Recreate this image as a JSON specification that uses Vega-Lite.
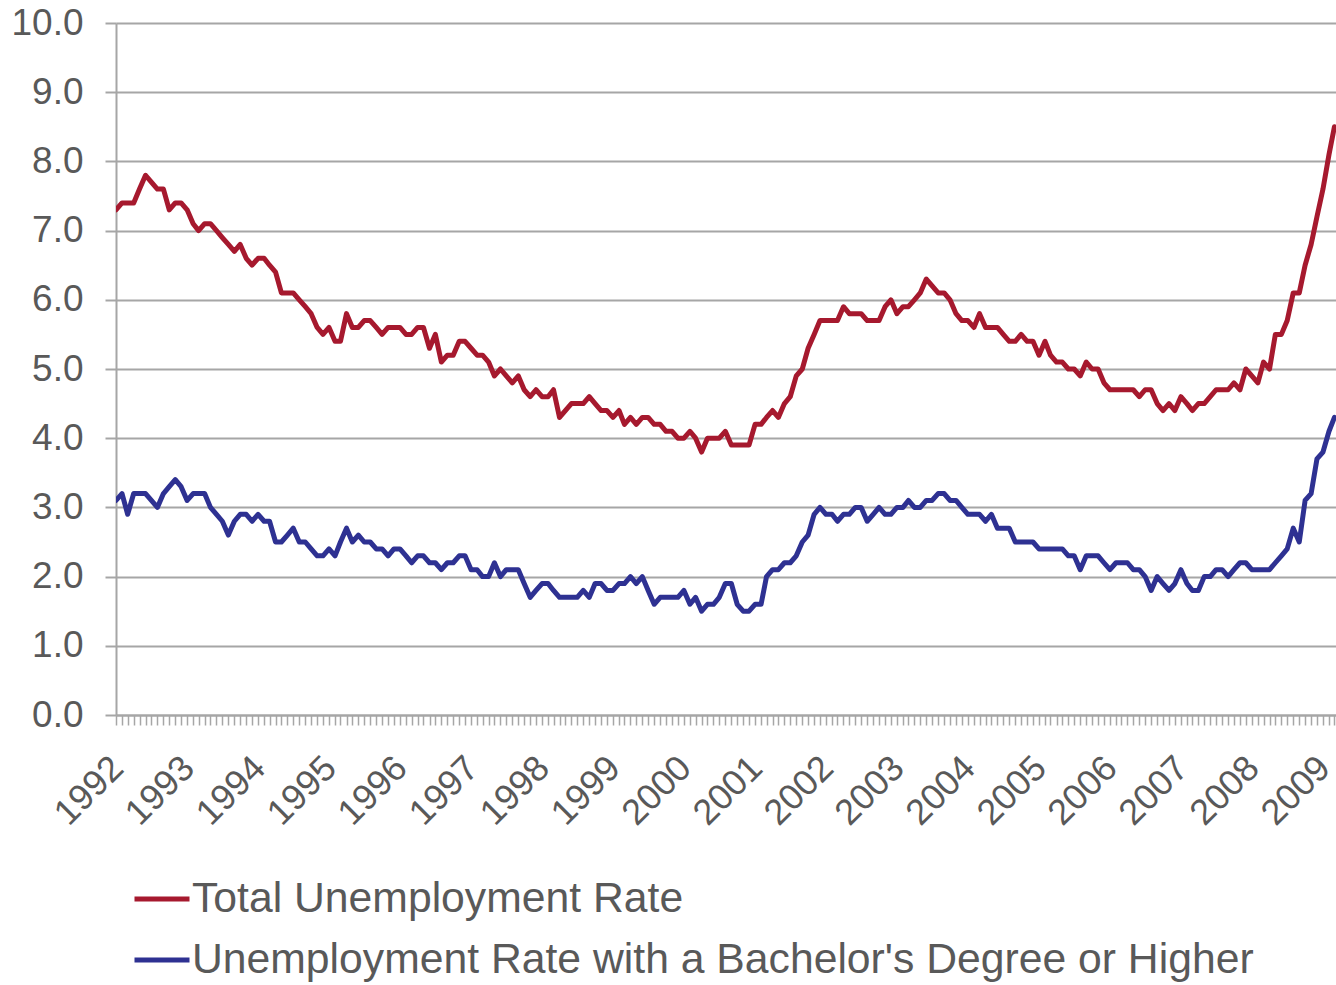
{
  "$schema": "https://vega.github.io/schema/vega-lite/v6.json",
  "width": 1220,
  "height": 692,
  "autosize": {"type": "none"},
  "padding": {"left": 116, "top": 23, "right": 0, "bottom": 270},
  "background": "white",
  "config": {
    "view": {"stroke": null},
    "font": "Liberation Sans",
    "axis": {"labelFont": "Liberation Sans", "labelColor": "#595959"},
    "legend": {"labelFont": "Liberation Sans"}
  },
  "data": {
    "values": [
      {"d":"1992-01-01","t":7.3,"b":3.1},{"d":"1992-02-01","t":7.4,"b":3.2},{"d":"1992-03-01","t":7.4,"b":2.9},{"d":"1992-04-01","t":7.4,"b":3.2},{"d":"1992-05-01","t":7.6,"b":3.2},{"d":"1992-06-01","t":7.8,"b":3.2},{"d":"1992-07-01","t":7.7,"b":3.1},{"d":"1992-08-01","t":7.6,"b":3.0},{"d":"1992-09-01","t":7.6,"b":3.2},{"d":"1992-10-01","t":7.3,"b":3.3},{"d":"1992-11-01","t":7.4,"b":3.4},{"d":"1992-12-01","t":7.4,"b":3.3},
      {"d":"1993-01-01","t":7.3,"b":3.1},{"d":"1993-02-01","t":7.1,"b":3.2},{"d":"1993-03-01","t":7.0,"b":3.2},{"d":"1993-04-01","t":7.1,"b":3.2},{"d":"1993-05-01","t":7.1,"b":3.0},{"d":"1993-06-01","t":7.0,"b":2.9},{"d":"1993-07-01","t":6.9,"b":2.8},{"d":"1993-08-01","t":6.8,"b":2.6},{"d":"1993-09-01","t":6.7,"b":2.8},{"d":"1993-10-01","t":6.8,"b":2.9},{"d":"1993-11-01","t":6.6,"b":2.9},{"d":"1993-12-01","t":6.5,"b":2.8},
      {"d":"1994-01-01","t":6.6,"b":2.9},{"d":"1994-02-01","t":6.6,"b":2.8},{"d":"1994-03-01","t":6.5,"b":2.8},{"d":"1994-04-01","t":6.4,"b":2.5},{"d":"1994-05-01","t":6.1,"b":2.5},{"d":"1994-06-01","t":6.1,"b":2.6},{"d":"1994-07-01","t":6.1,"b":2.7},{"d":"1994-08-01","t":6.0,"b":2.5},{"d":"1994-09-01","t":5.9,"b":2.5},{"d":"1994-10-01","t":5.8,"b":2.4},{"d":"1994-11-01","t":5.6,"b":2.3},{"d":"1994-12-01","t":5.5,"b":2.3},
      {"d":"1995-01-01","t":5.6,"b":2.4},{"d":"1995-02-01","t":5.4,"b":2.3},{"d":"1995-03-01","t":5.4,"b":2.5},{"d":"1995-04-01","t":5.8,"b":2.7},{"d":"1995-05-01","t":5.6,"b":2.5},{"d":"1995-06-01","t":5.6,"b":2.6},{"d":"1995-07-01","t":5.7,"b":2.5},{"d":"1995-08-01","t":5.7,"b":2.5},{"d":"1995-09-01","t":5.6,"b":2.4},{"d":"1995-10-01","t":5.5,"b":2.4},{"d":"1995-11-01","t":5.6,"b":2.3},{"d":"1995-12-01","t":5.6,"b":2.4},
      {"d":"1996-01-01","t":5.6,"b":2.4},{"d":"1996-02-01","t":5.5,"b":2.3},{"d":"1996-03-01","t":5.5,"b":2.2},{"d":"1996-04-01","t":5.6,"b":2.3},{"d":"1996-05-01","t":5.6,"b":2.3},{"d":"1996-06-01","t":5.3,"b":2.2},{"d":"1996-07-01","t":5.5,"b":2.2},{"d":"1996-08-01","t":5.1,"b":2.1},{"d":"1996-09-01","t":5.2,"b":2.2},{"d":"1996-10-01","t":5.2,"b":2.2},{"d":"1996-11-01","t":5.4,"b":2.3},{"d":"1996-12-01","t":5.4,"b":2.3},
      {"d":"1997-01-01","t":5.3,"b":2.1},{"d":"1997-02-01","t":5.2,"b":2.1},{"d":"1997-03-01","t":5.2,"b":2.0},{"d":"1997-04-01","t":5.1,"b":2.0},{"d":"1997-05-01","t":4.9,"b":2.2},{"d":"1997-06-01","t":5.0,"b":2.0},{"d":"1997-07-01","t":4.9,"b":2.1},{"d":"1997-08-01","t":4.8,"b":2.1},{"d":"1997-09-01","t":4.9,"b":2.1},{"d":"1997-10-01","t":4.7,"b":1.9},{"d":"1997-11-01","t":4.6,"b":1.7},{"d":"1997-12-01","t":4.7,"b":1.8},
      {"d":"1998-01-01","t":4.6,"b":1.9},{"d":"1998-02-01","t":4.6,"b":1.9},{"d":"1998-03-01","t":4.7,"b":1.8},{"d":"1998-04-01","t":4.3,"b":1.7},{"d":"1998-05-01","t":4.4,"b":1.7},{"d":"1998-06-01","t":4.5,"b":1.7},{"d":"1998-07-01","t":4.5,"b":1.7},{"d":"1998-08-01","t":4.5,"b":1.8},{"d":"1998-09-01","t":4.6,"b":1.7},{"d":"1998-10-01","t":4.5,"b":1.9},{"d":"1998-11-01","t":4.4,"b":1.9},{"d":"1998-12-01","t":4.4,"b":1.8},
      {"d":"1999-01-01","t":4.3,"b":1.8},{"d":"1999-02-01","t":4.4,"b":1.9},{"d":"1999-03-01","t":4.2,"b":1.9},{"d":"1999-04-01","t":4.3,"b":2.0},{"d":"1999-05-01","t":4.2,"b":1.9},{"d":"1999-06-01","t":4.3,"b":2.0},{"d":"1999-07-01","t":4.3,"b":1.8},{"d":"1999-08-01","t":4.2,"b":1.6},{"d":"1999-09-01","t":4.2,"b":1.7},{"d":"1999-10-01","t":4.1,"b":1.7},{"d":"1999-11-01","t":4.1,"b":1.7},{"d":"1999-12-01","t":4.0,"b":1.7},
      {"d":"2000-01-01","t":4.0,"b":1.8},{"d":"2000-02-01","t":4.1,"b":1.6},{"d":"2000-03-01","t":4.0,"b":1.7},{"d":"2000-04-01","t":3.8,"b":1.5},{"d":"2000-05-01","t":4.0,"b":1.6},{"d":"2000-06-01","t":4.0,"b":1.6},{"d":"2000-07-01","t":4.0,"b":1.7},{"d":"2000-08-01","t":4.1,"b":1.9},{"d":"2000-09-01","t":3.9,"b":1.9},{"d":"2000-10-01","t":3.9,"b":1.6},{"d":"2000-11-01","t":3.9,"b":1.5},{"d":"2000-12-01","t":3.9,"b":1.5},
      {"d":"2001-01-01","t":4.2,"b":1.6},{"d":"2001-02-01","t":4.2,"b":1.6},{"d":"2001-03-01","t":4.3,"b":2.0},{"d":"2001-04-01","t":4.4,"b":2.1},{"d":"2001-05-01","t":4.3,"b":2.1},{"d":"2001-06-01","t":4.5,"b":2.2},{"d":"2001-07-01","t":4.6,"b":2.2},{"d":"2001-08-01","t":4.9,"b":2.3},{"d":"2001-09-01","t":5.0,"b":2.5},{"d":"2001-10-01","t":5.3,"b":2.6},{"d":"2001-11-01","t":5.5,"b":2.9},{"d":"2001-12-01","t":5.7,"b":3.0},
      {"d":"2002-01-01","t":5.7,"b":2.9},{"d":"2002-02-01","t":5.7,"b":2.9},{"d":"2002-03-01","t":5.7,"b":2.8},{"d":"2002-04-01","t":5.9,"b":2.9},{"d":"2002-05-01","t":5.8,"b":2.9},{"d":"2002-06-01","t":5.8,"b":3.0},{"d":"2002-07-01","t":5.8,"b":3.0},{"d":"2002-08-01","t":5.7,"b":2.8},{"d":"2002-09-01","t":5.7,"b":2.9},{"d":"2002-10-01","t":5.7,"b":3.0},{"d":"2002-11-01","t":5.9,"b":2.9},{"d":"2002-12-01","t":6.0,"b":2.9},
      {"d":"2003-01-01","t":5.8,"b":3.0},{"d":"2003-02-01","t":5.9,"b":3.0},{"d":"2003-03-01","t":5.9,"b":3.1},{"d":"2003-04-01","t":6.0,"b":3.0},{"d":"2003-05-01","t":6.1,"b":3.0},{"d":"2003-06-01","t":6.3,"b":3.1},{"d":"2003-07-01","t":6.2,"b":3.1},{"d":"2003-08-01","t":6.1,"b":3.2},{"d":"2003-09-01","t":6.1,"b":3.2},{"d":"2003-10-01","t":6.0,"b":3.1},{"d":"2003-11-01","t":5.8,"b":3.1},{"d":"2003-12-01","t":5.7,"b":3.0},
      {"d":"2004-01-01","t":5.7,"b":2.9},{"d":"2004-02-01","t":5.6,"b":2.9},{"d":"2004-03-01","t":5.8,"b":2.9},{"d":"2004-04-01","t":5.6,"b":2.8},{"d":"2004-05-01","t":5.6,"b":2.9},{"d":"2004-06-01","t":5.6,"b":2.7},{"d":"2004-07-01","t":5.5,"b":2.7},{"d":"2004-08-01","t":5.4,"b":2.7},{"d":"2004-09-01","t":5.4,"b":2.5},{"d":"2004-10-01","t":5.5,"b":2.5},{"d":"2004-11-01","t":5.4,"b":2.5},{"d":"2004-12-01","t":5.4,"b":2.5},
      {"d":"2005-01-01","t":5.2,"b":2.4},{"d":"2005-02-01","t":5.4,"b":2.4},{"d":"2005-03-01","t":5.2,"b":2.4},{"d":"2005-04-01","t":5.1,"b":2.4},{"d":"2005-05-01","t":5.1,"b":2.4},{"d":"2005-06-01","t":5.0,"b":2.3},{"d":"2005-07-01","t":5.0,"b":2.3},{"d":"2005-08-01","t":4.9,"b":2.1},{"d":"2005-09-01","t":5.1,"b":2.3},{"d":"2005-10-01","t":5.0,"b":2.3},{"d":"2005-11-01","t":5.0,"b":2.3},{"d":"2005-12-01","t":4.8,"b":2.2},
      {"d":"2006-01-01","t":4.7,"b":2.1},{"d":"2006-02-01","t":4.7,"b":2.2},{"d":"2006-03-01","t":4.7,"b":2.2},{"d":"2006-04-01","t":4.7,"b":2.2},{"d":"2006-05-01","t":4.7,"b":2.1},{"d":"2006-06-01","t":4.6,"b":2.1},{"d":"2006-07-01","t":4.7,"b":2.0},{"d":"2006-08-01","t":4.7,"b":1.8},{"d":"2006-09-01","t":4.5,"b":2.0},{"d":"2006-10-01","t":4.4,"b":1.9},{"d":"2006-11-01","t":4.5,"b":1.8},{"d":"2006-12-01","t":4.4,"b":1.9},
      {"d":"2007-01-01","t":4.6,"b":2.1},{"d":"2007-02-01","t":4.5,"b":1.9},{"d":"2007-03-01","t":4.4,"b":1.8},{"d":"2007-04-01","t":4.5,"b":1.8},{"d":"2007-05-01","t":4.5,"b":2.0},{"d":"2007-06-01","t":4.6,"b":2.0},{"d":"2007-07-01","t":4.7,"b":2.1},{"d":"2007-08-01","t":4.7,"b":2.1},{"d":"2007-09-01","t":4.7,"b":2.0},{"d":"2007-10-01","t":4.8,"b":2.1},{"d":"2007-11-01","t":4.7,"b":2.2},{"d":"2007-12-01","t":5.0,"b":2.2},
      {"d":"2008-01-01","t":4.9,"b":2.1},{"d":"2008-02-01","t":4.8,"b":2.1},{"d":"2008-03-01","t":5.1,"b":2.1},{"d":"2008-04-01","t":5.0,"b":2.1},{"d":"2008-05-01","t":5.5,"b":2.2},{"d":"2008-06-01","t":5.5,"b":2.3},{"d":"2008-07-01","t":5.7,"b":2.4},{"d":"2008-08-01","t":6.1,"b":2.7},{"d":"2008-09-01","t":6.1,"b":2.5},{"d":"2008-10-01","t":6.5,"b":3.1},{"d":"2008-11-01","t":6.8,"b":3.2},{"d":"2008-12-01","t":7.2,"b":3.7},
      {"d":"2009-01-01","t":7.6,"b":3.8},{"d":"2009-02-01","t":8.1,"b":4.1},{"d":"2009-03-01","t":8.5,"b":4.3}
    ]
  },
  "transform": [{"fold": ["t", "b"], "as": ["series", "rate"]}],
  "mark": {"type": "line", "strokeWidth": 5, "strokeJoin": "round", "strokeCap": "round", "clip": true},
  "encoding": {
    "x": {
      "field": "d",
      "type": "temporal",
      "scale": {
        "type": "utc",
        "domain": [{"year": 1992, "month": 1, "date": 1, "utc": true}, {"year": 2009, "month": 3, "date": 9, "utc": true}]
      },
      "axis": {
        "title": null,
        "grid": false,
        "tickCount": {"interval": "month", "step": 1},
        "labelExpr": "utcmonth(datum.value) == 0 ? utcFormat(datum.value, '%Y') : ''",
        "labelOverlap": false,
        "labelBound": false,
        "labelFlush": false,
        "labelAngle": -45,
        "labelAlign": "right",
        "labelBaseline": "top",
        "labelFontSize": 36,
        "labelPadding": 25,
        "labelOffset": -11,
        "tickSize": 10,
        "tickWidth": 1.5,
        "tickColor": "#A6A6A6",
        "domainColor": "#A6A6A6",
        "domainWidth": 2
      }
    },
    "y": {
      "field": "rate",
      "type": "quantitative",
      "scale": {"domain": [0, 10], "nice": false, "zero": true},
      "axis": {
        "title": null,
        "values": [0, 1, 2, 3, 4, 5, 6, 7, 8, 9, 10],
        "format": ".1f",
        "labelFontSize": 37,
        "labelPadding": 22,
        "tickSize": 11,
        "tickWidth": 2,
        "tickColor": "#A6A6A6",
        "domainColor": "#A6A6A6",
        "domainWidth": 2,
        "grid": true,
        "gridColor": "#A6A6A6",
        "gridWidth": 2
      }
    },
    "color": {
      "field": "series",
      "type": "nominal",
      "scale": {"domain": ["t", "b"], "range": ["#A6192E", "#2E3192"]},
      "legend": {
        "title": null,
        "orient": "none",
        "legendX": 16,
        "legendY": 846,
        "direction": "vertical",
        "padding": 0,
        "symbolType": "stroke",
        "symbolSize": 3025,
        "symbolStrokeWidth": 5,
        "labelFontSize": 42.7,
        "labelColor": "#595959",
        "labelOffset": 0,
        "labelLimit": 0,
        "rowPadding": 9,
        "labelExpr": "datum.label == 't' ? 'Total Unemployment Rate' : \"Unemployment Rate with a Bachelor's Degree or Higher\""
      }
    }
  }
}
